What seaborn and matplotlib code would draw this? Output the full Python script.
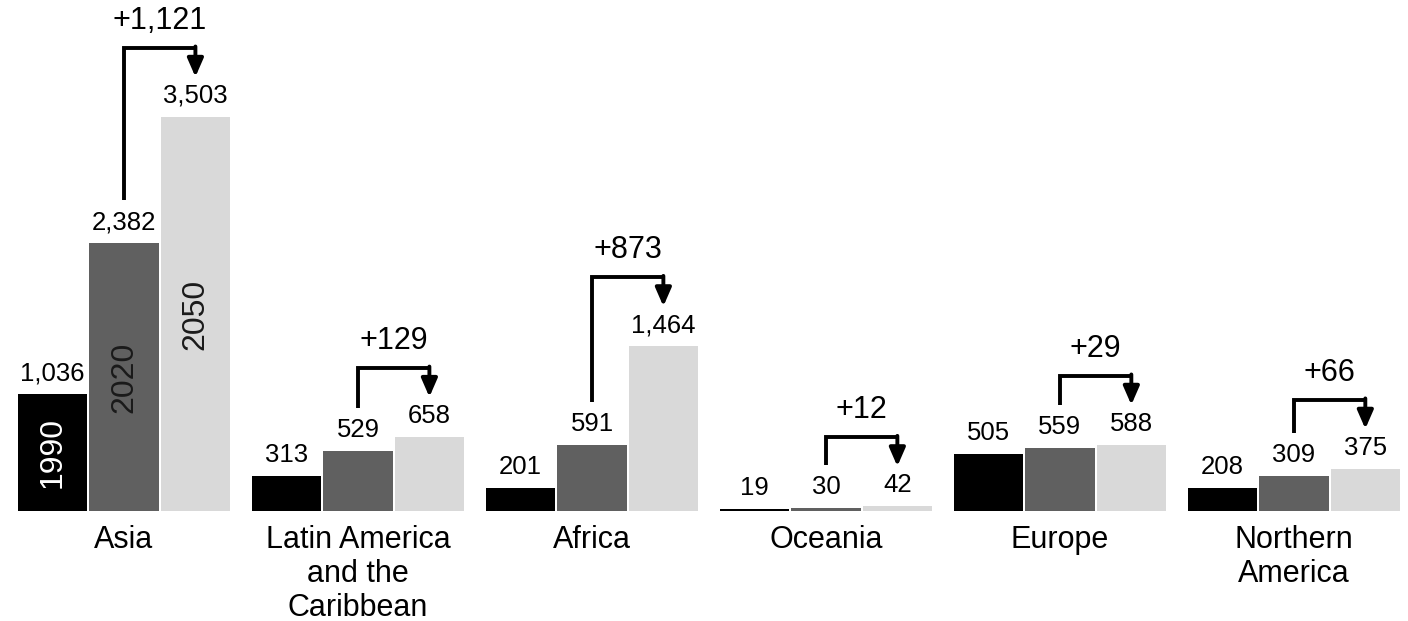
import numpy as np
import pandas as pd
import matplotlib.pyplot as plt
import seaborn as sns

regions = ["Asia", "Latin America\nand the\nCaribbean", "Africa", "Oceania", "Europe", "Northern\nAmerica"]
years = ["1990", "2020", "2050"]
pop_1990 = [1036, 313, 201, 19, 505, 208]
pop_2020 = [2382, 529, 591, 30, 559, 309]
pop_2050 = [3503, 658, 1464, 42, 588, 375]

colors = ["#000000", "#606060", "#d9d9d9"]
year_text_colors = ["white", "#1a1a1a", "#1a1a1a"]

df = pd.DataFrame({
    "region": regions * 3,
    "year": [y for y in years for _ in regions],
    "pop": pop_1990 + pop_2020 + pop_2050,
})

sns.set_theme(style="white")
plt.rcParams["font.family"] = ["Liberation Sans", "DejaVu Sans"]

W, H = 1408, 621
fig = plt.figure(figsize=(W / 100, H / 100), dpi=100)
ax_px = (17, 110, 1384, 511)  # left, bottom, width, height in pixels
ax = fig.add_axes([ax_px[0] / W, ax_px[1] / H, ax_px[2] / W, ax_px[3] / H])

sns.barplot(data=df, x="region", y="pop", hue="year", hue_order=years,
            palette=colors, width=0.915, gap=0.03, linewidth=0, ax=ax)

ymax = 4542
ax.set_ylim(0, ymax)
ax.set_xlim(-0.4575, 5.4575)
px = ymax / ax_px[3]  # data units per pixel

ax.legend_.remove()
sns.despine(ax=ax, left=True, bottom=True)
ax.set_xlabel("")
ax.set_ylabel("")
ax.set_yticks([])
ax.tick_params(axis="x", length=0, pad=10, labelsize=22, labelcolor="black")
for lbl in ax.get_xticklabels():
    lbl.set_linespacing(1.18)

# value labels above each bar
for cont in ax.containers:
    for bar in cont:
        h = bar.get_height()
        cx = bar.get_x() + bar.get_width() / 2
        ax.text(cx, h + 14 * px, f"{int(round(h)):,}", ha="center", va="baseline",
                fontsize=18.5, color="black")

# year labels inside the Asia bars
for i, cont in enumerate(ax.containers):
    bar = cont[0]
    ax.text(bar.get_x() + bar.get_width() / 2, bar.get_height() / 2, years[i],
            rotation=90, ha="center", va="center", fontsize=23,
            color=year_text_colors[i])

# change arrows from 2020 to 2050
mid_bars = ax.containers[1]
new_bars = ax.containers[2]
for b1, b2 in zip(mid_bars, new_bars):
    x1 = b1.get_x() + b1.get_width() / 2
    x2 = b2.get_x() + b2.get_width() / 2
    y_start = b1.get_height() + 43 * px
    y_top = b2.get_height() + 69 * px
    y_tip = b2.get_height() + 40 * px
    ax.plot([x1, x1, x2], [y_start, y_top, y_top], color="black", lw=2.8,
            solid_joinstyle="miter", solid_capstyle="butt", clip_on=False)
    ax.annotate("", xy=(x2, y_tip), xytext=(x2, y_top + 1.4 * px),
                arrowprops=dict(arrowstyle="-|>,head_length=0.55,head_width=0.24",
                                mutation_scale=20, color="black", lw=2.8,
                                shrinkA=0, shrinkB=0),
                annotation_clip=False)
    diff = int(round(b2.get_height() - b1.get_height()))
    ax.text((x1 + x2) / 2, y_top + 12 * px, f"+{diff:,}", ha="center",
            va="bottom", fontsize=22, color="black")

fig.savefig("out.png", dpi=100)
